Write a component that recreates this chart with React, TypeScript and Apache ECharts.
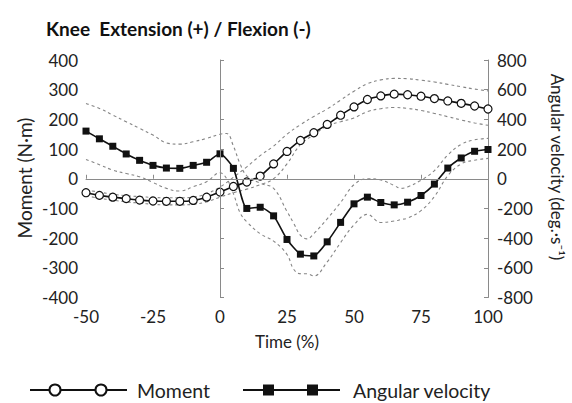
import React, { useEffect, useRef } from "react";
import * as echarts from "echarts";

const timePct = [-50, -45, -40, -35, -30, -25, -20, -15, -10, -5, 0, 5, 10, 15, 20, 25, 30, 35, 40, 45, 50, 55, 60, 65, 70, 75, 80, 85, 90, 95, 100];

const momentMean = [-47, -56, -62, -67, -72, -75, -76, -76, -73, -62, -45, -26, -11, 9, 50, 92, 129, 155, 183, 214, 242, 267, 279, 285, 283, 278, 270, 262, 254, 245, 235];
const momentUpper = [-38, -45, -52, -57, -60, -63, -64, -64, -62, -50, -28, 5, 40, 78, 110, 150, 182, 210, 235, 265, 295, 320, 333, 338, 337, 332, 326, 318, 310, 302, 296];
const momentLower = [-57, -66, -72, -78, -82, -86, -88, -88, -86, -78, -62, -47, -35, -20, 0, 50, 115, 148, 178, 192, 205, 226, 236, 240, 237, 230, 220, 209, 198, 188, 180];

const angVelMean = [321, 269, 219, 167, 124, 90, 72, 70, 90, 111, 168, 70, -200, -192, -250, -409, -508, -520, -425, -294, -169, -124, -160, -176, -158, -113, -36, 72, 140, 185, 197];

const sdTime = [-50, -45, -40, -35, -30, -25, -20, -15, -10, -5, 0, 2.5, 5, 7.5, 10, 15, 20, 25, 27.5, 30, 32.5, 35, 40, 45, 50, 55, 60, 65, 67.5, 70, 75, 80, 85, 90, 95, 100];
const angVelUpper = [507, 474, 429, 384, 339, 294, 242, 233, 249, 272, 300, 305, 220, 100, 20, -30, -65, -220, -300, -380, -405, -370, -270, -160, -40, 0, -8, -45, -65, -55, -10, 55, 160, 232, 262, 272];
const angVelLower = [130, 95, 58, 35, 13, -25, -65, -83, -54, -20, 40, 0, -100, -230, -290, -370, -420, -510, -610, -640, -640, -655, -560, -430, -310, -240, -295, -285, -275, -265, -215, -120, 20, 100, 125, 137];

const xTicks = { min: -50, max: 100, interval: 25 };
const leftTicks = { min: -400, max: 400, interval: 100 };
const rightTicks = { min: -800, max: 800, interval: 200 };

const FONT = "Lato, 'Open Sans', sans-serif";

function pairs(xs: number[], ys: number[]) {
  return xs.map((x, i) => [x, ys[i]]);
}

export default function App() {
  const ref = useRef<HTMLDivElement>(null);
  useEffect(() => {
    if (!ref.current) return;
    const chart = echarts.init(ref.current, undefined, { renderer: "svg" });
    const axisLine = { show: true, lineStyle: { color: "#8a8a8a", width: 1 } };
    const axisLabel = { color: "#222", fontSize: 17, fontFamily: FONT };
    const tick = { show: true, inside: true, length: 4, lineStyle: { color: "#8a8a8a" } };
    const dashed = (name: string, data: number[][], yAxisIndex: number) => ({
      name,
      type: "line",
      yAxisIndex,
      data,
      smooth: 0.4,
      symbol: "none",
      silent: true,
      lineStyle: { color: "#858585", width: 1.1, type: [3, 3] },
      z: 1,
    });
    chart.setOption({
      animation: false,
      grid: { left: 86, right: 84, top: 60, bottom: 105.5, containLabel: false },
      title: {
        text: "Knee  Extension (+) / Flexion (-)",
        left: 41,
        top: 14,
        textStyle: { fontSize: 19, fontWeight: "bold", color: "#111", fontFamily: FONT },
      },
      xAxis: {
        type: "value",
        min: xTicks.min,
        max: xTicks.max,
        interval: xTicks.interval,
        axisLine,
        axisTick: tick,
        axisLabel: { ...axisLabel, margin: 10 },
        splitLine: { show: false },
      },
      yAxis: [
        {
          type: "value",
          min: leftTicks.min,
          max: leftTicks.max,
          interval: leftTicks.interval,
          axisLine,
          axisTick: tick,
          axisLabel: { ...axisLabel, margin: 8 },
          splitLine: { show: false },
        },
        {
          type: "value",
          position: "right",
          min: rightTicks.min,
          max: rightTicks.max,
          interval: rightTicks.interval,
          axisLine,
          axisTick: tick,
          axisLabel: { ...axisLabel, margin: 9 },
          splitLine: { show: false },
        },
      ],
      series: [
        dashed("Moment +SD", pairs(timePct, momentUpper), 0),
        dashed("Moment -SD", pairs(timePct, momentLower), 0),
        dashed("Angular velocity +SD", pairs(sdTime, angVelUpper), 1),
        dashed("Angular velocity -SD", pairs(sdTime, angVelLower), 1),
        {
          name: "Moment",
          type: "line",
          yAxisIndex: 0,
          data: pairs(timePct, momentMean),
          smooth: 0.2,
          symbol: "circle",
          symbolSize: 8,
          itemStyle: { color: "#fff", borderColor: "#111", borderWidth: 1.2 },
          lineStyle: { color: "#111", width: 1.6 },
          z: 3,
          markLine: {
            silent: true,
            symbol: "none",
            label: { show: false },
            lineStyle: { color: "#8a8a8a", width: 1, type: "solid" },
            data: [{ yAxis: 0 }, { xAxis: 0 }],
          },
        },
        {
          name: "Angular velocity",
          type: "line",
          yAxisIndex: 1,
          data: pairs(timePct, angVelMean),
          smooth: 0.2,
          symbol: "rect",
          symbolSize: 7,
          itemStyle: { color: "#111" },
          lineStyle: { color: "#111", width: 1.6 },
          z: 4,
        },
      ],
      graphic: [
        {
          type: "text",
          x: 24,
          y: 178,
          rotation: Math.PI / 2,
          style: { text: "Moment (N·m)", fontSize: 19, fontFamily: FONT, fill: "#222", align: "center", verticalAlign: "middle" },
        },
        {
          type: "text",
          x: 557,
          y: 167,
          rotation: -Math.PI / 2,
          style: { text: "Angular velocity (deg.·s⁻¹)", fontSize: 17, fontFamily: FONT, fill: "#222", align: "center", verticalAlign: "middle" },
        },
        {
          type: "text",
          x: 287,
          y: 341,
          style: { text: "Time (%)", fontSize: 17, fontFamily: FONT, fill: "#222", align: "center", verticalAlign: "middle" },
        },
        { type: "line", shape: { x1: 30, y1: 390, x2: 127, y2: 390 }, style: { stroke: "#111", lineWidth: 2 } },
        { type: "circle", shape: { cx: 55, cy: 390, r: 5.5 }, style: { fill: "#fff", stroke: "#111", lineWidth: 2 } },
        { type: "circle", shape: { cx: 101, cy: 390, r: 5.5 }, style: { fill: "#fff", stroke: "#111", lineWidth: 2 } },
        {
          type: "text",
          x: 137,
          y: 390,
          style: { text: "Moment", fontSize: 19.5, fontFamily: FONT, fill: "#222", verticalAlign: "middle" },
        },
        { type: "line", shape: { x1: 243, y1: 390, x2: 340, y2: 390 }, style: { stroke: "#111", lineWidth: 2 } },
        { type: "rect", shape: { x: 263, y: 384.5, width: 11, height: 11 }, style: { fill: "#111" } },
        { type: "rect", shape: { x: 307, y: 384.5, width: 11, height: 11 }, style: { fill: "#111" } },
        {
          type: "text",
          x: 353,
          y: 390,
          style: { text: "Angular velocity", fontSize: 19.5, fontFamily: FONT, fill: "#222", verticalAlign: "middle" },
        },
      ],
    });
    return () => chart.dispose();
  }, []);
  return <div ref={ref} style={{ width: 572, height: 403, position: "absolute", left: 0, top: 0, background: "#fff" }} />;
}
